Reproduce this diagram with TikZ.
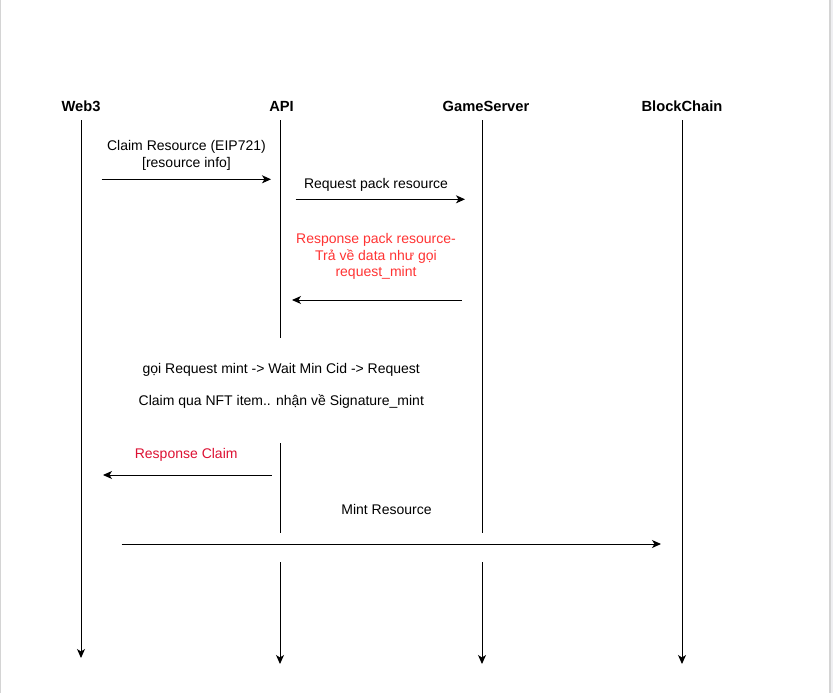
\documentclass[tikz,border=0pt]{standalone}
\usepackage{fontspec}
\setmainfont{Liberation Sans}
\usetikzlibrary{arrows.meta}
\definecolor{lightred}{HTML}{FF3333}
\definecolor{darkred}{HTML}{DD1133}
\definecolor{framegray}{HTML}{D4D4D4}
\definecolor{framelight}{HTML}{EFEFF2}
\begin{document}
\begin{tikzpicture}[x=1pt,y=-1pt,
  hdr/.style={font=\bfseries\fontsize{14.7}{17}\selectfont, inner sep=0pt, anchor=base},
  lbl/.style={font=\fontsize{14}{16.5}\selectfont, inner sep=0pt, anchor=base, align=center},
  life/.style={line width=1pt, draw=black},
  lifearrow/.style={life, -{Stealth[length=9pt,width=8pt,inset=2.5pt]}},
  msg/.style={line width=1pt, draw=black, -{Stealth[length=9pt,width=8pt,inset=2.5pt]}},
  ]
\useasboundingbox (0,0) rectangle (833,693);
\fill[white] (0,0) rectangle (833,693);
\fill[framegray] (0,0) rectangle (1.2,693);
\fill[framegray] (829,0) rectangle (831,693);
\fill[framelight] (831,0) rectangle (833,693);

% headers
\node[hdr] (web3) at (81,111) {Web3};
\node[hdr] (api) at (281.5,111) {API};
\node[hdr] (gs) at (486,111) {GameServer};
\node[hdr] (bc) at (682,111) {BlockChain};

% lifeline coordinates
\coordinate (w3a) at (81,120);  \coordinate (w3b) at (81,658);
\coordinate (apa) at (280,120); \coordinate (apb) at (280,338);
\coordinate (apc) at (280,443); \coordinate (apd) at (280,533);
\coordinate (ape) at (280,562); \coordinate (apf) at (280,664);
\coordinate (gsa) at (482,120); \coordinate (gsb) at (482,533);
\coordinate (gsc) at (482,562); \coordinate (gsd) at (482,664);
\coordinate (bca) at (682,120); \coordinate (bcb) at (682,664);

\draw[lifearrow] (w3a) -- (w3b);
\draw[life] (apa) -- (apb);
\draw[life] (apc) -- (apd);
\draw[lifearrow] (ape) -- (apf);
\draw[life] (gsa) -- (gsb);
\draw[lifearrow] (gsc) -- (gsd);
\draw[lifearrow] (bca) -- (bcb);

% message coordinates
\coordinate (m1s) at (101.7,179.3); \coordinate (m1e) at (271,179.3);
\coordinate (m2s) at (295.7,199.3); \coordinate (m2e) at (465,199.3);
\coordinate (m3s) at (461.7,300);   \coordinate (m3e) at (292,300);
\coordinate (m4s) at (271.7,475);   \coordinate (m4e) at (103,475);
\coordinate (m5s) at (121.7,544);   \coordinate (m5e) at (661,544);

\draw[msg] (m1s) -- (m1e);
\draw[msg] (m2s) -- (m2e);
\draw[msg] (m3s) -- (m3e);
\draw[msg] (m4s) -- (m4e);
\draw[msg] (m5s) -- (m5e);

% labels (base anchor = baseline of last line)
\node[lbl] (l1) at (186.5,167.3) {Claim Resource (EIP721)\\{[}resource info{]}};
\node[lbl] (l2) at (376,188.3) {Request pack resource};
\node[lbl, text=lightred] (l3) at (376,276.7) {Response pack resource-\\Trả về data như gọi\\request\_mint};
\node[lbl] (l4) at (281.3,405.7) {gọi Request mint -> Wait Min Cid -> Request\\[15.9pt]Claim qua NFT item.. nhận về Signature\_mint};
\node[lbl, text=darkred] (l5) at (186.2,458.3) {Response Claim};
\node[lbl] (l6) at (386.5,514) {Mint Resource};
\end{tikzpicture}
\end{document}
